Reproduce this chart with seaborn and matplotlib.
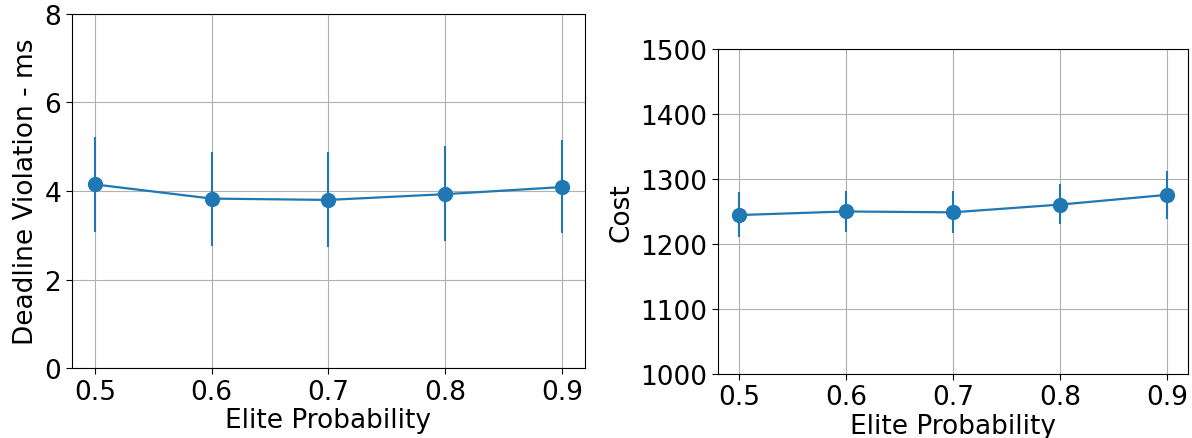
import matplotlib
matplotlib.use("Agg")
import matplotlib.pyplot as plt
import seaborn as sns
import numpy as np
import pandas as pd

elite_prob = [0.5, 0.6, 0.7, 0.8, 0.9]
violation_mean = [4.15, 3.83, 3.80, 3.93, 4.09]
violation_low = [3.07, 2.76, 2.73, 2.88, 3.06]
violation_high = [5.22, 4.88, 4.88, 5.02, 5.15]
cost_mean = [1244.5, 1250.0, 1248.7, 1260.6, 1275.6]
cost_low = [1210.6, 1218.0, 1216.6, 1231.0, 1239.0]
cost_high = [1280.0, 1281.0, 1281.0, 1292.0, 1313.0]

sns.set_style("white")
plt.rcParams['font.family'] = ['DejaVu Sans']
plt.rcParams['text.color'] = 'black'
plt.rcParams['axes.labelcolor'] = 'black'
plt.rcParams['xtick.color'] = 'black'
plt.rcParams['ytick.color'] = 'black'
color = "#1f77b4"

fig = plt.figure(figsize=(11.92, 4.39), dpi=100)
ax1 = fig.add_axes([0.060, 0.159, 0.431, 0.807])
ax2 = fig.add_axes([0.602, 0.146, 0.395, 0.740])

def draw(ax, mean, low, high, ylabel, ylim, yticks):
    df = pd.DataFrame({"x": elite_prob, "y": mean})
    sns.lineplot(data=df, x="x", y="y", ax=ax, color=color, linewidth=1.6,
                 marker="o", markersize=11, markeredgewidth=0, zorder=3)
    m = np.array(mean)
    yerr = [m - np.array(low), np.array(high) - m]
    ax.errorbar(elite_prob, mean, yerr=yerr, fmt="none", ecolor=color,
                elinewidth=1.5, capsize=0, zorder=3)
    ax.set_xlim(0.48, 0.92)
    ax.set_ylim(*ylim)
    ax.set_xticks(elite_prob)
    ax.set_xticklabels(["0.5", "0.6", "0.7", "0.8", "0.9"])
    ax.set_yticks(yticks)
    ax.grid(True, color="#b0b0b0", linewidth=0.8)
    ax.set_axisbelow(True)
    for s in ax.spines.values():
        s.set_color("black")
        s.set_linewidth(0.8)
    ax.tick_params(axis="both", labelsize=19, direction="out", length=4,
                   width=0.8, color="black", labelcolor="black",
                   left=True, bottom=True)
    ax.set_xlabel("Elite Probability", fontsize=19, labelpad=2, color="black")
    ax.set_ylabel(ylabel, fontsize=19, color="black")

draw(ax1, violation_mean, violation_low, violation_high,
     "Deadline Violation - ms", (0, 8), [0, 2, 4, 6, 8])
draw(ax2, cost_mean, cost_low, cost_high,
     "Cost", (1000, 1500), [1000, 1100, 1200, 1300, 1400, 1500])

fig.savefig("out.png", dpi=100)
